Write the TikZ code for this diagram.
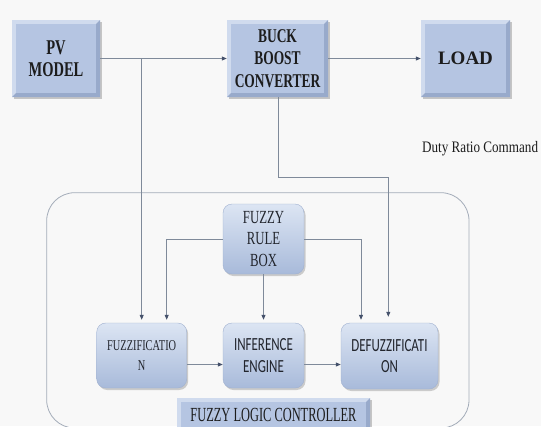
\documentclass[tikz,border=0pt]{standalone}
\usepackage{fontspec}
\setmainfont{Liberation Serif}
\newfontfamily\narrowserif[FakeStretch=0.69]{Liberation Serif}
\newfontfamily\tightserif[FakeStretch=0.62]{Liberation Serif}
\newfontfamily\dutyserif[FakeStretch=0.82]{Liberation Serif}
\newfontfamily\narrowsans[FakeStretch=0.70]{Carlito}
\usetikzlibrary{arrows.meta,shadows}

\definecolor{pagebg}{HTML}{F8F8F8}
\definecolor{boxbody}{HTML}{B5C5E2}
\definecolor{bevlight}{HTML}{D0DBEE}
\definecolor{bevdark}{HTML}{98AACB}
\definecolor{softtop}{HTML}{DCE5F3}
\definecolor{softbot}{HTML}{A8BADA}
\definecolor{softedge}{HTML}{A0B1D0}
\definecolor{wirecol}{HTML}{7F8A9A}
\definecolor{tipcol}{HTML}{45516B}
\definecolor{framecol}{HTML}{A3ACB9}
\definecolor{inkcol}{HTML}{1C1C1C}
\definecolor{softink}{HTML}{22252D}

\tikzset{
  bevelbox/.style={
    rectangle, inner sep=0pt, fill=bevlight, text=inkcol, align=center,
    drop shadow={shadow xshift=1.5pt, shadow yshift=-1.5pt, opacity=0.35, fill=black!60},
    path picture={
      \fill[bevdark] (path picture bounding box.south west)
        -- (path picture bounding box.south east)
        -- (path picture bounding box.north east)
        -- ([shift={(-4pt,-4pt)}]path picture bounding box.north east)
        -- ([shift={(-4pt,4pt)}]path picture bounding box.south east)
        -- ([shift={(4pt,4pt)}]path picture bounding box.south west) -- cycle;
      \fill[boxbody] ([shift={(4pt,4pt)}]path picture bounding box.south west)
        rectangle ([shift={(-4pt,-4pt)}]path picture bounding box.north east);
    }},
  softbox/.style={
    rectangle, rounded corners=9pt, inner sep=0pt, align=center,
    top color=softtop, bottom color=softbot, draw=softedge, line width=0.4pt,
    text=softink,
    drop shadow={shadow xshift=1.5pt, shadow yshift=-2pt, opacity=0.3, fill=black!60}},
  flcframe/.style={draw=framecol, line width=0.8pt, rounded corners=28pt,
    rectangle, inner sep=0pt},
  conn/.style={draw=wirecol, line width=0.8pt,
    -{Triangle[width=4pt,length=5pt,color=tipcol]}}
}

\begin{document}
\begin{tikzpicture}[x=1pt,y=-1pt]
  % page
  \fill[pagebg] (0,0) rectangle (541,426);
  \useasboundingbox (0,0) rectangle (541,426);

  % controller frame
  \node[flcframe, minimum width=422.3pt, minimum height=235.3pt] (flcbox) at (257.85,310.35) {};

  % power path
  \node[bevelbox, minimum width=88pt, minimum height=77pt,
        font=\narrowserif\bfseries\fontsize{21}{22}\selectfont] (pv) at (56,58.5)
    {PV\\MODEL};
  \node[bevelbox, minimum width=101pt, minimum height=77pt,
        font=\narrowserif\bfseries\fontsize{19.5}{22.5}\selectfont] (buck) at (277.5,58.5)
    {BUCK\\BOOST\\CONVERTER};
  \node[bevelbox, minimum width=89pt, minimum height=77pt,
        font=\bfseries\fontsize{19}{22}\selectfont] (load) at (465.5,58.5)
    {LOAD};

  \node[anchor=base west, inner sep=0pt, text=inkcol,
        font=\dutyserif\fontsize{16}{18}\selectfont] (duty) at (422,152)
    {Duty Ratio Command};

  % fuzzy controller blocks
  \node[softbox, minimum width=81pt, minimum height=70pt,
        font=\narrowserif\fontsize{18.5}{21.5}\selectfont] (rule) at (263.5,239)
    {FUZZY\\RULE\\BOX};
  \node[softbox, minimum width=90pt, minimum height=65pt,
        font=\narrowserif\fontsize{15}{19.5}\selectfont] (fuzz) at (141.7,355.5)
    {FUZZIFICATIO\\N};
  \node[softbox, minimum width=81pt, minimum height=65pt,
        font=\narrowsans\fontsize{18.5}{21.5}\selectfont] (inf) at (263.5,355.5)
    {INFERENCE\\ENGINE};
  \node[softbox, minimum width=97pt, minimum height=66pt,
        font=\narrowsans\fontsize{18.5}{21.5}\selectfont] (def) at (389.5,356)
    {DEFUZZIFICATI\\ON};

  % connectors
  \coordinate (pvsplit) at (141.7,58.5);
  \coordinate (bturn) at (278,177);
  \draw[conn] (pv) -- (buck);
  \draw[conn] (buck) -- (load);
  \draw[conn, shorten >=3pt] (pvsplit) -- (fuzz.north);
  \draw[conn, shorten >=6pt] (buck.south -| bturn) -- (bturn) -| ([xshift=-1.2pt]def.north);
  \draw[conn, shorten >=3pt] (rule.west) -| ([xshift=25pt]fuzz.north);
  \draw[conn, shorten >=3pt] (rule.east) -| ([xshift=-28.5pt]def.north);
  \draw[conn, shorten >=3pt] (rule) -- (inf);
  \draw[conn] ([yshift=-9pt]fuzz.east) -- ([yshift=-9pt]fuzz.east -| inf.west);
  \draw[conn] ([yshift=-9pt]inf.east) -- ([yshift=-9pt]inf.east -| def.west);

  % controller caption
  \node[bevelbox, minimum width=193pt, minimum height=34pt, drop shadow={opacity=0},
        font=\tightserif\fontsize{20}{22}\selectfont] (flclabel) at (273.5,415)
    {FUZZY LOGIC CONTROLLER};
\end{tikzpicture}
\end{document}
